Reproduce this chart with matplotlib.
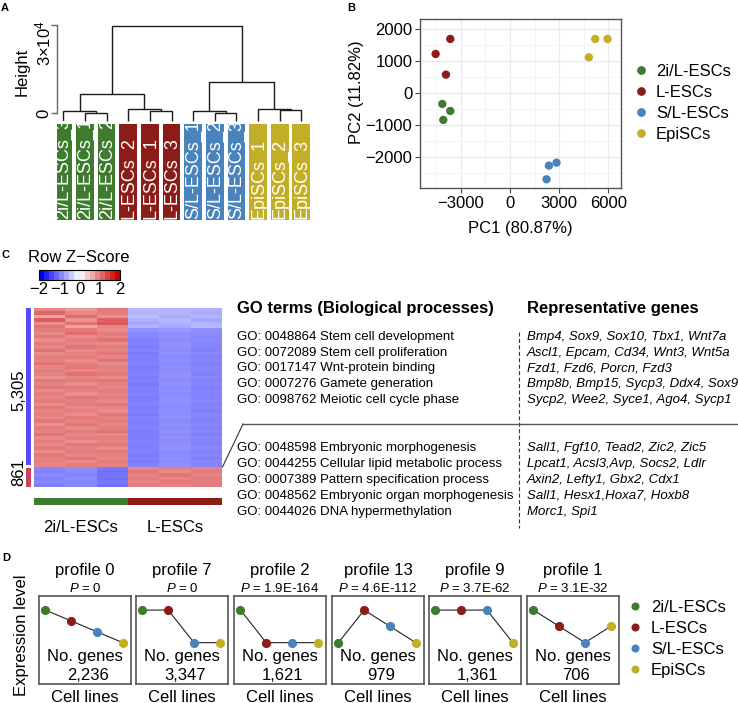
import numpy as np
import matplotlib
matplotlib.use('Agg')
import matplotlib.pyplot as plt
from matplotlib.colors import LinearSegmentedColormap, Normalize
from matplotlib.patches import Rectangle
from matplotlib.lines import Line2D
import matplotlib.cm as cm

plt.rcParams['font.family'] = ['Liberation Sans', 'DejaVu Sans']
plt.rcParams['mathtext.fontset'] = 'custom'
plt.rcParams['mathtext.rm'] = 'Liberation Sans'
plt.rcParams['mathtext.it'] = 'Liberation Sans:italic'
plt.rcParams['axes.unicode_minus'] = True

# ---------------- data ----------------
groups = ['2i/L-ESCs', 'L-ESCs', 'S/L-ESCs', 'EpiSCs']
group_colors = ['#3E7B2E', '#8B1C17', '#4A82BC', '#C2AF27']

# Panel A: dendrogram
leaf_labels = ['2i/L-ESCs_3', '2i/L-ESCs_1', '2i/L-ESCs_2',
               'L-ESCs_2', 'L-ESCs_1', 'L-ESCs_3',
               'S/L-ESCs_1', 'S/L-ESCs_2', 'S/L-ESCs_3',
               'EpiSCs_1', 'EpiSCs_2', 'EpiSCs_3']
leaf_group = [0, 0, 0, 1, 1, 1, 2, 2, 2, 3, 3, 3]
merge_left = [1, 0, 4, 3, 7, 6, 10, 9, 13, 17, 20]
merge_right = [2, 12, 5, 14, 8, 16, 11, 18, 15, 19, 21]
merge_height = [150, 800, 800, 1350, 150, 800, 1000, 1350, 6580, 10670, 29760]
leaf_bottom = -2500

# Panel B: PCA
pc1 = [-4123, -3636, -4062, -3636, -4529, -3900, 2376, 2844, 2234, 5200, 5951, 4814]
pc2 = [-333, -552, -833, 1698, 1229, 583, -2260, -2167, -2688, 1698, 1698, 1125]
pca_group = [0, 0, 0, 1, 1, 1, 2, 2, 2, 3, 3, 3]

# Panel C: heatmap (row z-scores; cols 2i/L x3, L x3)
hm_top = [
    [0.95, 0.80, 1.05, -0.55, -0.60, -0.62],
    [1.20, 0.95, 1.00, -0.60, -0.58, -0.66],
    [0.70, 1.15, 0.85, -0.52, -0.66, -0.60],
    [1.28, 0.85, 1.22, -0.62, -0.55, -0.70],
    [0.90, 1.10, 1.30, -0.68, -0.62, -0.58],
    [1.10, 0.72, 0.95, -0.58, -0.70, -0.55],
    [1.00, 1.05, 0.90, -0.85, -0.80, -0.88],
    [0.92, 1.15, 1.02, -0.95, -0.88, -0.90],
    [1.05, 0.90, 0.98, -0.92, -0.85, -0.95],
    [0.88, 1.00, 1.10, -1.00, -0.90, -0.92],
    [1.02, 0.95, 0.90, -0.98, -0.86, -0.94],
    [0.95, 1.08, 1.00, -1.02, -0.88, -0.96],
    [1.10, 0.92, 0.96, -0.96, -0.90, -0.98],
    [0.90, 0.98, 1.05, -1.04, -0.87, -0.93],
    [1.00, 1.02, 0.94, -0.99, -0.91, -0.97],
    [0.96, 0.88, 1.08, -1.01, -0.89, -0.95],
    [1.08, 1.00, 0.92, -0.97, -0.92, -0.99],
    [0.93, 1.06, 1.00, -1.03, -0.88, -0.94],
    [1.02, 0.94, 0.97, -1.00, -0.90, -0.96],
    [0.98, 1.10, 1.04, -0.98, -0.86, -0.98],
    [0.85, 0.96, 0.92, -1.02, -0.89, -0.93],
    [1.04, 1.02, 1.06, -0.97, -0.91, -0.97],
    [0.97, 0.90, 0.99, -1.05, -0.87, -0.95],
    [1.06, 1.04, 0.93, -0.99, -0.90, -0.99],
    [0.91, 0.97, 1.03, -1.01, -0.88, -0.94],
    [1.00, 0.86, 0.96, -0.98, -0.92, -0.96],
    [0.94, 1.07, 1.01, -1.03, -0.89, -0.98],
    [1.03, 0.99, 0.95, -1.00, -0.87, -0.93],
    [0.89, 1.03, 1.07, -0.97, -0.90, -0.97],
    [1.07, 0.93, 0.98, -1.02, -0.91, -0.95],
    [0.96, 1.01, 0.91, -0.99, -0.88, -0.99],
    [1.01, 0.89, 1.05, -1.04, -0.90, -0.94],
    [0.93, 1.05, 0.97, -0.98, -0.86, -0.96],
    [1.05, 0.97, 1.02, -1.01, -0.92, -0.98],
    [0.87, 1.09, 0.94, -1.00, -0.89, -0.93],
    [1.02, 0.92, 1.00, -0.97, -0.90, -0.97],
    [0.98, 1.04, 1.08, -1.03, -0.87, -0.95],
    [1.09, 0.95, 0.93, -0.99, -0.91, -0.99],
    [0.92, 1.00, 1.01, -1.02, -0.88, -0.94],
    [1.00, 0.87, 0.96, -0.98, -0.90, -0.96],
    [0.95, 1.06, 1.04, -1.01, -0.89, -0.98],
    [1.04, 0.98, 0.92, -1.00, -0.87, -0.93],
    [0.90, 1.02, 1.06, -0.97, -0.92, -0.97],
    [1.06, 0.94, 0.99, -1.03, -0.90, -0.95],
    [0.97, 1.08, 0.95, -0.99, -0.88, -0.99],
    [1.01, 0.91, 1.03, -1.02, -0.91, -0.94],
    [0.94, 1.03, 0.98, -0.98, -0.89, -0.96],
]
hm_bottom = [
    [-0.95, -0.90, -1.05, 0.95, 1.00, 0.98],
    [-1.00, -0.92, -1.10, 1.05, 0.92, 1.02],
    [-0.92, -0.96, -1.08, 0.98, 1.08, 0.96],
    [-0.98, -0.90, -1.12, 1.02, 0.96, 1.05],
    [-0.94, -0.95, -1.06, 0.96, 1.04, 1.00],
    [-1.02, -0.93, -1.10, 1.00, 0.98, 1.03],
]
cluster_counts = ['5,305', '861']
hm_col_groups = ['2i/L-ESCs', 'L-ESCs']

go_top = ['GO: 0048864 Stem cell development',
          'GO: 0072089 Stem cell proliferation',
          'GO: 0017147 Wnt-protein binding',
          'GO: 0007276 Gamete generation',
          'GO: 0098762 Meiotic cell cycle phase']
genes_top = ['Bmp4, Sox9, Sox10, Tbx1, Wnt7a',
             'Ascl1, Epcam, Cd34, Wnt3, Wnt5a',
             'Fzd1, Fzd6, Porcn, Fzd3',
             'Bmp8b, Bmp15, Sycp3, Ddx4, Sox9',
             'Sycp2, Wee2, Syce1, Ago4, Sycp1']
go_bottom = ['GO: 0048598 Embryonic morphogenesis',
             'GO: 0044255 Cellular lipid metabolic process',
             'GO: 0007389 Pattern specification process',
             'GO: 0048562 Embryonic organ morphogenesis',
             'GO: 0044026 DNA hypermethylation']
genes_bottom = ['Sall1, Fgf10, Tead2, Zic2, Zic5',
                'Lpcat1, Acsl3,Avp, Socs2, Ldlr',
                'Axin2, Lefty1, Gbx2, Cdx1',
                'Sall1, Hesx1,Hoxa7, Hoxb8',
                'Morc1, Spi1']

# Panel D: expression profiles
profile_names = ['profile 0', 'profile 7', 'profile 2', 'profile 13', 'profile 9', 'profile 1']
profile_p = ['0', '0', '1.9E-164', '4.6E-112', '3.7E-62', '3.1E-32']
profile_ngenes = ['2,236', '3,347', '1,621', '979', '1,361', '706']
profile_values = [[0, -1, -2, -3],
                  [0, 0, -1, -1],
                  [0, -1, -1, -1],
                  [0, 2, 1, 0],
                  [0, 0, 0, -1],
                  [0, -1, -2, -1]]

# ---------------- figure ----------------
W, H = 738, 703
fig = plt.figure(figsize=(W / 100, H / 100), dpi=100)


def px_axes(x0, y0, x1, y1, **kw):
    return fig.add_axes([x0 / W, 1 - y1 / H, (x1 - x0) / W, (y1 - y0) / H], **kw)


# ---- Panel A ----
axA = px_axes(57.3, 20, 315, 225)
xs = {i: float(i) for i in range(len(leaf_labels))}
hs = {i: leaf_bottom for i in range(len(leaf_labels))}
for k, (l, r, h) in enumerate(zip(merge_left, merge_right, merge_height)):
    node = len(leaf_labels) + k
    axA.plot([xs[l], xs[l], xs[r], xs[r]], [hs[l], h, h, hs[r]],
             color='#1a1a1a', lw=1.0, solid_joinstyle='miter', solid_capstyle='butt')
    xs[node] = (xs[l] + xs[r]) / 2
    hs[node] = h
box_top, box_bot = -3670, -36420
for i, lab in enumerate(leaf_labels):
    rect = Rectangle((i - 0.41, box_bot), 0.82, box_top - box_bot,
                     facecolor=group_colors[leaf_group[i]], edgecolor='none')
    axA.add_patch(rect)
    t = axA.text(i + 0.03, box_bot + 400, lab, rotation=90, ha='center', va='bottom',
                 color='white', fontsize=13)
    t.set_clip_path(rect)
axA.set_xlim(-0.277, 11.63)
axA.set_ylim(-37950, 31700)
for s in ['top', 'right', 'bottom']:
    axA.spines[s].set_visible(False)
axA.spines['left'].set_bounds(0, 30000)
axA.spines['left'].set_color('#666666')
axA.spines['left'].set_linewidth(1.0)
axA.set_xticks([])
axA.set_yticks([0, 30000])
axA.set_yticklabels(['', ''])
axA.tick_params(axis='y', length=4, width=1.0, color='#666666')
axA.patch.set_alpha(0)

# ---- Panel B ----
axB = px_axes(420, 19.3, 620.7, 188.3)
axB.set_axisbelow(True)
for g in range(4):
    xx = [pc1[i] for i in range(len(pc1)) if pca_group[i] == g]
    yy = [pc2[i] for i in range(len(pc2)) if pca_group[i] == g]
    axB.scatter(xx, yy, s=36, color=group_colors[g], edgecolors='none', zorder=3)
axB.set_xlim(-5482, 6756)
axB.set_ylim(-2969, 2312)
axB.set_xticks([-3000, 0, 3000, 6000])
axB.set_xticks([-4500, -1500, 1500, 4500], minor=True)
axB.set_yticks([-2000, -1000, 0, 1000, 2000])
axB.set_yticks([-2500, -1500, -500, 500, 1500], minor=True)
axB.grid(which='major', color='#EBEBEB', lw=0.9)
axB.grid(which='minor', color='#F3F3F3', lw=0.6)
axB.tick_params(which='major', length=3.5, width=0.8, color='#444444', labelsize=12, pad=2)
axB.tick_params(which='minor', length=0)
for s in axB.spines.values():
    s.set_color('#555555')
    s.set_linewidth(1.0)

legB = [Line2D([], [], marker='o', ls='none', markersize=6.3, color=c, markeredgewidth=0)
        for c in group_colors]
fig.legend(legB, groups, loc='center left', bbox_to_anchor=(634.3 / W, 1 - 103 / H),
           frameon=False, fontsize=12, handlelength=0.8, handletextpad=0.5,
           labelspacing=0.37, borderpad=0, borderaxespad=0)

# ---- Panel C ----
cmap = LinearSegmentedColormap.from_list('bwr2', ['#0000FF', '#FFFFFF', '#CC0000'])
hm = np.array(hm_top + hm_bottom)
axC = px_axes(34, 308, 222, 487)
axC.imshow(hm, cmap=cmap, vmin=-2, vmax=2, aspect='auto', interpolation='nearest')
axC.set_xticks([])
axC.set_yticks([])
for s in axC.spines.values():
    s.set_visible(False)

n_top, n_bot = len(hm_top), len(hm_bottom)
axR = px_axes(25.5, 308, 30.5, 487)
axR.bar([0], [n_top - 0.6], bottom=[0.1], width=1, color='#5B4BF2')
axR.bar([0], [n_bot - 0.35], bottom=[n_top + 0.35], width=1, color='#D0405E')
axR.set_ylim(n_top + n_bot, 0)
axR.set_xlim(-0.5, 0.5)
axR.axis('off')

axCol = px_axes(34, 498, 222, 505)
axCol.bar([0, 1], [1, 1], width=1, color=[group_colors[0], group_colors[1]])
axCol.set_xlim(-0.5, 1.5)
axCol.set_ylim(0, 1)
axCol.axis('off')

cax = px_axes(39, 270, 120, 280)
sm = cm.ScalarMappable(norm=Normalize(-2, 2), cmap=cmap.resampled(16))
cb = fig.colorbar(sm, cax=cax, orientation='horizontal')
cb.set_ticks([-2, -1, 0, 1, 2])
cb.ax.tick_params(labelsize=12, length=0, pad=1.5)
cb.outline.set_linewidth(0.8)

# ---- Panel D ----
box_x0 = [39, 136, 234, 332, 429, 527]
for i, vals in enumerate(profile_values):
    ax = px_axes(box_x0[i], 596, box_x0[i] + 92, 684)
    vmax, vmin = max(vals), min(vals)
    r = vmax - vmin
    ax.set_ylim(vmin - 0.47 * r / 0.37, vmax + 0.16 * r / 0.37)
    ax.set_xlim(-0.25, 3.32)
    ax.plot(range(4), vals, color='#222222', lw=0.8, zorder=2)
    for j in range(4):
        ax.plot([j], [vals[j]], marker='o', ls='none', markersize=6.6,
                color=group_colors[j], markeredgewidth=0, zorder=3)
    ax.set_xticks([])
    ax.set_yticks([])
    for s in ax.spines.values():
        s.set_color('#555555')
        s.set_linewidth(1.2)
    cx = box_x0[i] + 46
    fig.text(cx / W, 1 - 570 / H, profile_names[i], ha='center', va='center', fontsize=12)
    fig.text(cx / W, 1 - 588 / H, r'$\mathit{P}$ = ' + profile_p[i], ha='center', va='center',
             fontsize=9.5)
    fig.text(cx / W, 1 - 656 / H, 'No. genes', ha='center', va='center', fontsize=12)
    fig.text((cx + 3) / W, 1 - 676 / H, profile_ngenes[i], ha='center', va='center', fontsize=12)
    fig.text(cx / W, 1 - 697 / H, 'Cell lines', ha='center', va='center', fontsize=12)

legD = [Line2D([], [], marker='o', ls='none', markersize=5.8, color=c, markeredgewidth=0)
        for c in group_colors]
fig.legend(legD, groups, loc='center left', bbox_to_anchor=(628.3 / W, 1 - 639 / H),
           frameon=False, fontsize=12, handlelength=0.8, handletextpad=0.56,
           labelspacing=0.37, borderpad=0, borderaxespad=0)

# ---- overlay for annotations ----
ov = fig.add_axes([0, 0, 1, 1])
ov.set_xlim(0, W)
ov.set_ylim(H, 0)
ov.axis('off')

for lab, (x, y) in zip(['A', 'B', 'C', 'D'], [(5, 8), (351, 8), (5, 255), (6, 558)]):
    ov.text(x, y, lab, fontsize=8, fontweight='bold', ha='center', va='center')

# Panel A axis texts
ov.text(22.5, 72, 'Height', rotation=90, ha='center', va='center', fontsize=12)
ov.text(43.5, 113.3, '0', rotation=90, ha='center', va='center', fontsize=12)
ov.text(43.5, 20, r'$3{\times}10^4$', rotation=90, ha='center', va='top', fontsize=12)

# Panel B axis titles
ov.text(357, 92.5, 'PC2 (11.82%)', rotation=90, ha='center', va='center', fontsize=12)
ov.text(520, 228, 'PC1 (80.87%)', ha='center', va='center', fontsize=12)

# Panel C texts
ov.text(79, 257, 'Row Z\u2212Score', ha='center', va='center', fontsize=12)
ov.text(19, 390, cluster_counts[0], rotation=90, ha='center', va='center', fontsize=12)
ov.text(19, 472, cluster_counts[1], rotation=90, ha='center', va='center', fontsize=12)
ov.text(81, 527, hm_col_groups[0], ha='center', va='center', fontsize=12)
ov.text(175, 527, hm_col_groups[1], ha='center', va='center', fontsize=12)

ov.text(237, 308.3, 'GO terms (Biological processes)', ha='left', va='center',
        fontsize=12, fontweight='bold')
ov.text(527, 308.3, 'Representative genes', ha='left', va='center',
        fontsize=12, fontweight='bold')
for k, (g, gn) in enumerate(zip(go_top, genes_top)):
    y = 336.7 + 15.85 * k
    ov.text(237, y, g, ha='left', va='center', fontsize=9.5)
    ov.text(527, y, gn, ha='left', va='center', fontsize=9.5, style='italic')
for k, (g, gn) in enumerate(zip(go_bottom, genes_bottom)):
    y = 448.3 + 15.85 * k
    ov.text(237, y, g, ha='left', va='center', fontsize=9.5)
    ov.text(527, y, gn, ha='left', va='center', fontsize=9.5, style='italic')

ov.plot([519.3, 519.3], [332, 528], color='#333333', lw=0.8, dashes=(3.6, 2.2))
ov.plot([243, 738], [424, 424], color='#555555', lw=1.0)
ov.plot([222.5, 243], [467, 424], color='#333333', lw=0.8)

# Panel D label
ov.text(21.7, 635, 'Expression level', rotation=90, ha='center', va='center', fontsize=12)

fig.savefig('out.png', dpi=100)
